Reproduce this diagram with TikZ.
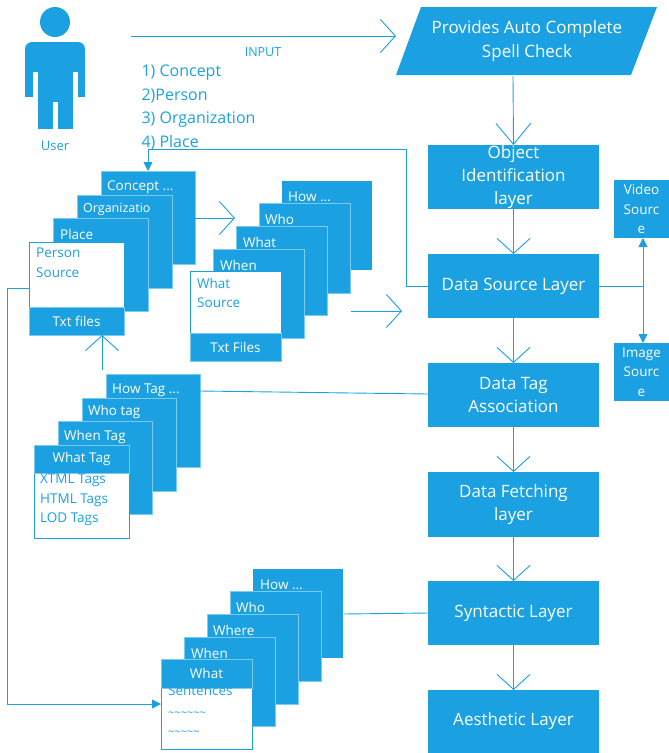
\documentclass[tikz,border=0pt]{standalone}
\usepackage{fontspec}
\setmainfont{Open Sans}
\usetikzlibrary{arrows.meta}
\definecolor{flow}{HTML}{1BA1E2}
\definecolor{edge}{HTML}{7CCBF0}
\tikzset{
    layer/.style={fill=flow, text=white, inner sep=0pt, outer sep=0pt, anchor=north west, align=center, font=\fontsize{17}{23}\selectfont},
    side/.style={fill=flow, text=white, inner sep=0pt, outer sep=0pt, anchor=north west, align=center, font=\fontsize{13.5}{19.5}\selectfont},
    card/.style={fill=flow, draw=edge, line width=0.7pt, inner sep=0pt, outer sep=0pt, anchor=north west, minimum width=#1},
    sheet/.style={fill=white, draw=flow, line width=0.7pt, inner sep=0pt, outer sep=0pt, anchor=north west, minimum width=#1},
    cardtext/.style={text=white, inner sep=0pt, anchor=west, font=\fontsize{13.5}{19}\selectfont},
    sheettext/.style={text=flow, inner sep=0pt, anchor=north west, align=left, font=\fontsize{13.5}{19.5}\selectfont},
    link/.style={draw=flow, line width=0.9pt},
    openlink/.style={link, -{Straight Barb[length=15pt,width=33pt,line width=0.9pt]}},
    solidlink/.style={link, -{Triangle[length=9pt,width=9pt]}},
}
\begin{document}
\begin{tikzpicture}[x=1pt,y=-1pt]
    \useasboundingbox (0,0) rectangle (669,753);

    % user figure
    \fill[flow] (55,22) circle[radius=15];
    \fill[flow, rounded corners=7pt] (25,97) -- (25,42) -- (85,42) -- (85,97) -- cycle;
    \fill[flow] (25,60) rectangle (85,97);
    \fill[flow] (38,72) rectangle (73,129);
    \fill[white] (33,72) rectangle (38,100);
    \fill[white] (73,72) rectangle (78,100);
    \fill[white] (53,102) rectangle (58,130);
    \node[text=flow, font=\fontsize{13}{16}\selectfont] (user) at (55,146) {User};

    % input
    \coordinate (inputstart) at (131,36);
    \coordinate (inputend) at (396,36);
    \node[text=flow, font=\fontsize{12.5}{16}\selectfont] (input) at (263,52) {INPUT};
    \node[text=flow, font=\fontsize{16}{16}\selectfont, anchor=west] (listone) at (138,73) {1) Concept};
    \node[text=flow, font=\fontsize{16}{16}\selectfont, anchor=west] (listtwo) at (138,96) {2)Person};
    \node[text=flow, font=\fontsize{16}{16}\selectfont, anchor=west] (listthree) at (138,120) {3) Organization};
    \node[text=flow, font=\fontsize{16}{16}\selectfont, anchor=west] (listfour) at (138,143) {4) Place};

    % main column
    \fill[flow] (421,7) -- (657,7) -- (631,75) -- (396,75) -- cycle;
    \node[text=white, align=center, font=\fontsize{17}{24}\selectfont] (provide) at (527,41) {Provides Auto Complete\\Spell Check};
    \coordinate (providebase) at (513,76);
    \node[layer, minimum width=171pt, minimum height=64pt] (object) at (428,145) {Object\\Identification\\layer};
    \node[layer, minimum width=171pt, minimum height=64pt] (source) at (428,254) {Data Source Layer};
    \node[layer, minimum width=171pt, minimum height=64pt] (tag) at (428,363) {Data Tag\\Association};
    \node[layer, minimum width=171pt, minimum height=65pt] (fetching) at (428,472) {Data Fetching\\layer};
    \node[layer, minimum width=171pt, minimum height=64pt] (syntactic) at (428,581) {Syntactic Layer};
    \node[layer, minimum width=171pt, minimum height=63pt] (aesthetic) at (428,690) {Aesthetic Layer};
    \node[side, minimum width=55pt, minimum height=58pt] (video) at (614,180) {Video\\Sourc\\e};
    \node[side, minimum width=55pt, minimum height=58pt] (image) at (614,343) {Image\\Sourc\\e};

    % first stack
    \node[card=94pt, minimum height=93pt] (concept) at (101,171) {};
    \node[cardtext] (conceptlabel) at (107,187) {Concept ...};
    \node[card=95pt, minimum height=93pt] (organization) at (77,195) {};
    \node[cardtext, font=\fontsize{12.5}{16}\selectfont] (organizationlabel) at (83,209) {Organizatio};
    \node[card=95pt, minimum height=93pt] (place) at (53,218) {};
    \node[cardtext] (placelabel) at (60,234) {Place};
    \node[sheet=95pt, minimum height=65pt] (person) at (29,242) {};
    \node[sheettext] (personlabel) at (36,248) {Person\\Source};
    \node[card=95pt, minimum height=28pt, text=white, font=\fontsize{13.5}{16}\selectfont] (personfiles) at (29,307) {Txt files};

    % second stack
    \node[card=90pt, minimum height=89pt, draw=none] (how) at (282,181) {};
    \node[cardtext] (howlabel) at (288,197) {How ...};
    \node[card=91pt, minimum height=90pt] (who) at (259,203) {};
    \node[cardtext] (wholabel) at (265,219) {Who};
    \node[card=91pt, minimum height=89pt] (what) at (236,226) {};
    \node[cardtext] (whatlabel) at (243,242) {What};
    \node[card=91pt, minimum height=89pt] (when) at (213,249) {};
    \node[cardtext] (whenlabel) at (220,265) {When};
    \node[sheet=91pt, minimum height=62pt] (whatsource) at (190,271) {};
    \node[sheettext] (whatsourcelabel) at (197,278) {What\\Source};
    \node[card=91pt, minimum height=28pt, text=white, font=\fontsize{13.5}{16}\selectfont] (whatfiles) at (190,333) {Txt Files};

    % tag stack
    \node[card=94pt, minimum height=93pt] (howtag) at (106,374) {};
    \node[cardtext] (howtaglabel) at (112,390) {How Tag ...};
    \node[card=94pt, minimum height=93pt] (whotag) at (82,398) {};
    \node[cardtext] (whotaglabel) at (88,412) {Who tag};
    \node[card=94pt, minimum height=93pt] (whentag) at (58,421) {};
    \node[cardtext] (whentaglabel) at (64,437) {When Tag};
    \node[sheet=95pt, minimum height=93pt] (whatsheet) at (34,445) {};
    \node[card=95pt, minimum height=28pt, text=white, font=\fontsize{13.5}{16}\selectfont] (whattag) at (34,445) {What Tag};
    \node[sheettext] (whatsheetlabel) at (40,474) {XTML Tags\\HTML Tags\\LOD Tags};

    % sentence stack
    \node[card=90pt, minimum height=89pt, draw=none] (howsent) at (253,569) {};
    \node[cardtext] (howsentlabel) at (260,585) {How ...};
    \node[card=91pt, minimum height=90pt] (whosent) at (230,591) {};
    \node[cardtext] (whosentlabel) at (236,607) {Who};
    \node[card=91pt, minimum height=90pt] (wheresent) at (207,614) {};
    \node[cardtext] (wheresentlabel) at (213,630) {Where};
    \node[card=91pt, minimum height=89pt] (whensent) at (184,637) {};
    \node[cardtext] (whensentlabel) at (191,653) {When};
    \node[sheet=91pt, minimum height=90pt] (whatpaper) at (161,659) {};
    \node[card=91pt, minimum height=29pt, text=white, font=\fontsize{13.5}{16}\selectfont] (whatsent) at (161,659) {What};
    \node[sheettext] (whatpaperlabel) at (168,686) {Sentences\\[1pt]{\fontsize{11}{19}\selectfont\textasciitilde\textasciitilde\textasciitilde\textasciitilde\textasciitilde\textasciitilde}\\{\fontsize{11}{19}\selectfont\textasciitilde\textasciitilde\textasciitilde\textasciitilde\textasciitilde}};

    % free ends of the connectors
    \coordinate (sourceturn) at (406,286);
    \coordinate (topturn) at (406,149);
    \coordinate (conceptturn) at (148,149);
    \coordinate (conceptout) at (195,218);
    \coordinate (conceptarrow) at (235,218);
    \coordinate (secondout) at (351,311);
    \coordinate (secondarrow) at (402,311);
    \coordinate (uparrowstart) at (102,370);
    \coordinate (uparrowend) at (102,335);
    \coordinate (tagout) at (428,394);
    \coordinate (tagin) at (200,391);
    \coordinate (syntacticout) at (428,613);
    \coordinate (syntacticin) at (344,614);
    \coordinate (personout) at (29,288);
    \coordinate (leftturn) at (7,288);
    \coordinate (leftbottom) at (7,704);
    \coordinate (paperin) at (161,704);
    \coordinate (branch) at (643,286);

    \draw[openlink] (inputstart) -- (inputend);
    \draw[openlink, -{Straight Barb[length=21pt,width=35pt,line width=0.9pt]}] (providebase) -- (object.north);
    \draw[openlink] (object.south) -- (source.north);
    \draw[openlink] (source.south) -- (tag.north);
    \draw[openlink] (tag.south) -- (fetching.north);
    \draw[openlink] (fetching.south) -- (syntactic.north);
    \draw[openlink] (syntactic.south) -- (aesthetic.north);
    \draw[solidlink] (source.west) -- (sourceturn) -- (topturn) -- (conceptturn) -- (concept.north -| conceptturn);
    \draw[openlink] (conceptout) -- (conceptarrow);
    \draw[openlink] (secondout) -- (secondarrow);
    \draw[openlink] (uparrowstart) -- (uparrowend);
    \draw[link] (tagout) -- (tagin);
    \draw[link] (syntacticout) -- (syntacticin);
    \draw[solidlink] (personout) -- (leftturn) -- (leftbottom) -- (paperin);
    \draw[link] (source.east) -- (branch);
    \draw[solidlink] (branch) -- (video.south -| branch);
    \draw[solidlink] (branch) -- (image.north -| branch);
\end{tikzpicture}
\end{document}
